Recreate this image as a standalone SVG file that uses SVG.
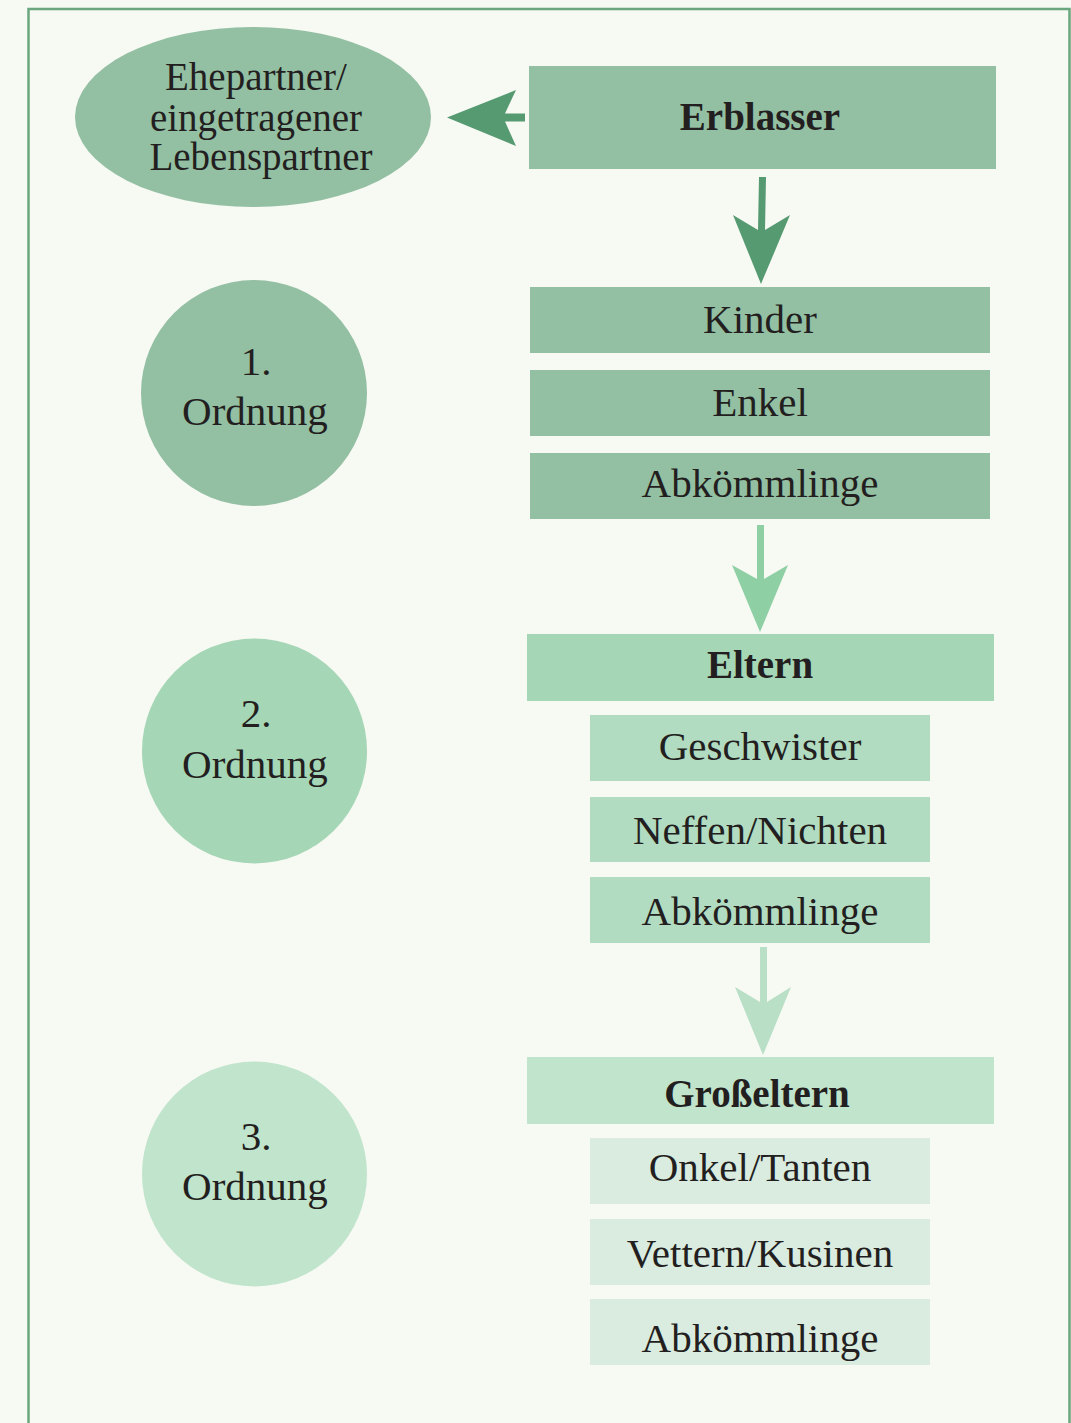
<svg xmlns="http://www.w3.org/2000/svg" width="1071" height="1423" viewBox="0 0 1071 1423">
<style>
text{font-family:"Liberation Serif","Times New Roman",serif;fill:#231f20;text-anchor:middle;font-size:41px}
.b{font-weight:bold;font-size:39px}
.e{font-size:39px}
.c1{fill:#93bfa3}.c2{fill:#a5d6b6}.c2b{fill:#b2dcc2}.c3{fill:#c1e4cc}.c3b{fill:#daece0}
</style>
<rect x="0" y="0" width="1071" height="1423" fill="#f7f9f3"/>
<path d="M28.5 1423 V9 H1069.5 V1423" fill="none" stroke="#6aa67e" stroke-width="2.5"/>
<g id="ehepartner"><ellipse class="c1" cx="253" cy="117" rx="178" ry="90"/>
<text class="e" x="256" y="90">Ehepartner/</text><text class="e" x="256" y="131">eingetragener</text><text class="e" x="261" y="170">Lebenspartner</text></g>
<g id="erblasser"><rect class="c1" x="529" y="66" width="467" height="103"/><text class="b" x="760" y="130">Erblasser</text></g>
<g id="ordnung1"><circle class="c1" cx="254" cy="393" r="113"/><text x="256" y="375">1.</text><text x="255" y="425">Ordnung</text></g>
<g id="kinder"><rect class="c1" x="530" y="287" width="460" height="66"/><text x="760" y="333">Kinder</text></g>
<g id="enkel"><rect class="c1" x="530" y="370" width="460" height="66"/><text x="760" y="416">Enkel</text></g>
<g id="abk1"><rect class="c1" x="530" y="453" width="460" height="66"/><text x="760" y="497">Abkömmlinge</text></g>
<g id="ordnung2"><circle class="c2" cx="254.5" cy="751" r="112.5"/><text x="256" y="727">2.</text><text x="255" y="778">Ordnung</text></g>
<g id="eltern"><rect class="c2" x="527" y="634" width="467" height="67"/><text class="b" x="760" y="678">Eltern</text></g>
<g id="geschwister"><rect class="c2b" x="590" y="715" width="340" height="66"/><text x="760" y="760">Geschwister</text></g>
<g id="neffen"><rect class="c2b" x="590" y="797" width="340" height="65"/><text x="760" y="844">Neffen/Nichten</text></g>
<g id="abk2"><rect class="c2b" x="590" y="877" width="340" height="66"/><text x="760" y="925">Abkömmlinge</text></g>
<g id="ordnung3"><circle class="c3" cx="254.5" cy="1174" r="112.5"/><text x="256" y="1150">3.</text><text x="255" y="1200">Ordnung</text></g>
<g id="grosseltern"><rect class="c3" x="527" y="1057" width="467" height="67"/><text class="b" x="757" y="1107">Großeltern</text></g>
<g id="onkel"><rect class="c3b" x="590" y="1138" width="340" height="66"/><text x="760" y="1181">Onkel/Tanten</text></g>
<g id="vettern"><rect class="c3b" x="590" y="1219" width="340" height="66"/><text x="760" y="1267">Vettern/Kusinen</text></g>
<g id="abk3"><rect class="c3b" x="590" y="1299" width="340" height="66"/><text x="760" y="1352">Abkömmlinge</text></g>
<g id="connectors">
<path d="M525 113.5 H505 L516 90 L447 117.5 L516 146 L505 121.5 H525 Z" fill="#559a71"/>
<path d="M759 177 H766 L765 230 L790 215 L761 284 L733 215 L758 230 Z" fill="#559a71"/>
<path d="M757 525 H764 V579 L788 565 L760 632 L732 565 L757 579 Z" fill="#8ecfa4"/>
<path d="M760 947 H767 V1002 L791 987 L763 1055 L735 987 L760 1002 Z" fill="#b9dfc7"/>
</g>
</svg>
